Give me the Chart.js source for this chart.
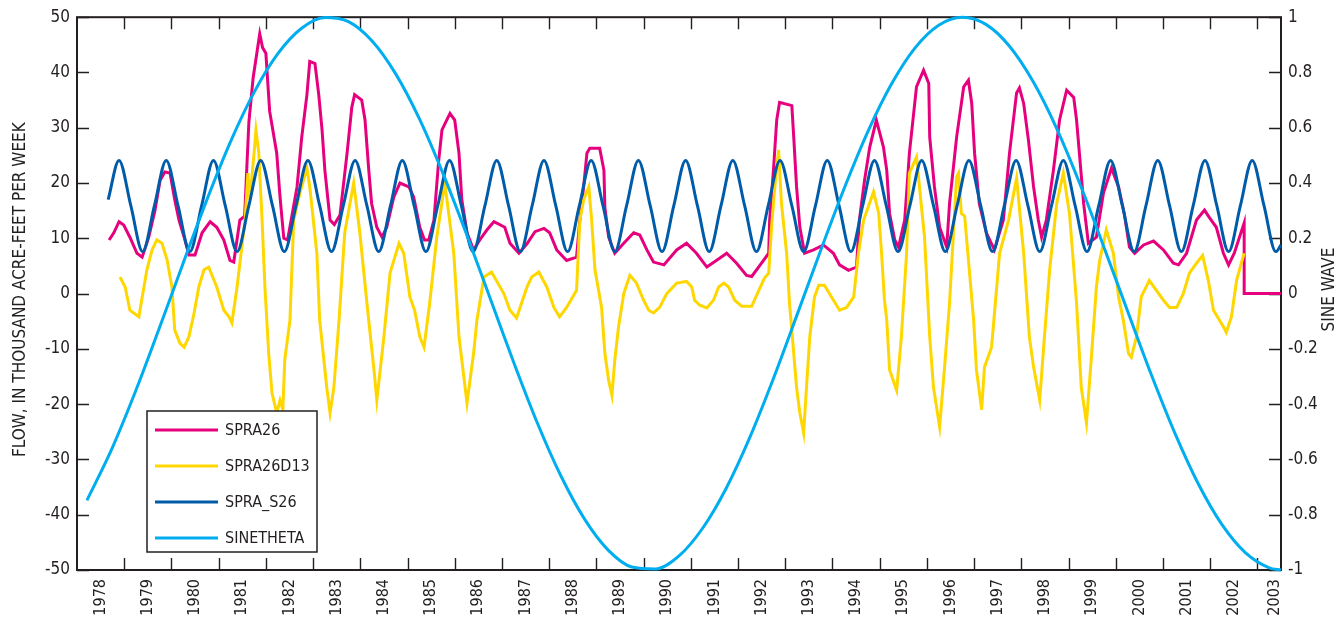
<!DOCTYPE html>
<html>
<head>
<meta charset="utf-8">
<title>SPRA26 weekly flow</title>
<script src="https://cdn.jsdelivr.net/npm/chart.js@4.4.1/dist/chart.umd.min.js"></script>
<style>
	html, body { margin: 0; padding: 0; background: #fff; }
	canvas { display: block; }
</style>
</head>
<body>
<canvas id="flowChart" width="1342" height="617"></canvas>
<script>
const INK = '#231f20'

// time axis, decimal years
const X_MIN = 1978
const X_MAX = 2003.5
const yearLabels = [
	1978, 1979, 1980, 1981, 1982, 1983, 1984, 1985, 1986, 1987, 1988, 1989, 1990,
	1991, 1992, 1993, 1994, 1995, 1996, 1997, 1998, 1999, 2000, 2001, 2002, 2003
]

// SPRA26, thousand acre-feet per week
const spra26Years = [
	1978.68, 1978.78, 1978.89, 1978.99, 1979.12, 1979.27, 1979.38, 1979.52, 1979.65, 1979.76, 1979.86, 1979.97,
	1980.07, 1980.16, 1980.27, 1980.37, 1980.5, 1980.65, 1980.82, 1980.96, 1981.11, 1981.24, 1981.32, 1981.45,
	1981.55, 1981.64, 1981.73, 1981.87, 1981.93, 1982.0, 1982.08, 1982.23, 1982.3, 1982.38, 1982.46, 1982.66,
	1982.76, 1982.87, 1982.93, 1983.04, 1983.12, 1983.19, 1983.25, 1983.36, 1983.45, 1983.57, 1983.72, 1983.82,
	1983.88, 1984.03, 1984.1, 1984.18, 1984.24, 1984.35, 1984.46, 1984.56, 1984.71, 1984.84, 1985.03, 1985.13,
	1985.26, 1985.36, 1985.45, 1985.56, 1985.66, 1985.73, 1985.9, 1986.0, 1986.09, 1986.15, 1986.26, 1986.4,
	1986.53, 1986.68, 1986.83, 1987.06, 1987.17, 1987.36, 1987.53, 1987.7, 1987.89, 1988.01, 1988.16, 1988.37,
	1988.58, 1988.65, 1988.73, 1988.8, 1988.86, 1989.07, 1989.16, 1989.18, 1989.26, 1989.39, 1989.58, 1989.79,
	1989.92, 1990.07, 1990.21, 1990.43, 1990.7, 1990.91, 1991.12, 1991.34, 1991.61, 1991.76, 1991.97, 1992.18,
	1992.29, 1992.54, 1992.65, 1992.67, 1992.75, 1992.82, 1992.88, 1993.14, 1993.18, 1993.24, 1993.31, 1993.41,
	1993.6, 1993.81, 1994.02, 1994.15, 1994.34, 1994.51, 1994.57, 1994.68, 1994.79, 1994.93, 1995.08, 1995.15,
	1995.21, 1995.32, 1995.4, 1995.53, 1995.63, 1995.78, 1995.93, 1996.04, 1996.06, 1996.16, 1996.27, 1996.42,
	1996.48, 1996.63, 1996.78, 1996.88, 1996.95, 1997.01, 1997.11, 1997.26, 1997.43, 1997.62, 1997.75, 1997.9,
	1997.96, 1998.05, 1998.15, 1998.26, 1998.36, 1998.43, 1998.53, 1998.68, 1998.81, 1998.96, 1999.11, 1999.17,
	1999.23, 1999.32, 1999.42, 1999.59, 1999.74, 1999.91, 2000.06, 2000.18, 2000.29, 2000.4, 2000.59, 2000.8,
	2001.01, 2001.22, 2001.33, 2001.5, 2001.71, 2001.88, 2001.98, 2002.13, 2002.28, 2002.39, 2002.51, 2002.72,
	2002.72, 2003.5
]
const spra26Flow = [
	9.7, 11, 13, 12.4, 10.2, 7.3, 6.6, 10.2, 15, 20.5, 22, 21.8,
	17, 13.3, 10.2, 7, 7, 11, 13, 12, 9.7, 6, 5.7, 13.3,
	14, 31, 39, 47, 44.5, 43.5, 33, 25.4, 17.5, 10, 9.7, 19.3,
	28.3, 36, 42, 41.6, 36, 29.6, 22.3, 13.3, 12.5, 14.2, 25.4, 33.7,
	36, 35, 31.4, 22.3, 16.3, 12, 10.2, 12, 17.5, 20, 19.3, 17.5,
	12, 9.7, 9.7, 13.3, 24, 29.6, 32.6, 31.4, 25.4, 17, 11, 7.9,
	9.7, 11.5, 13, 12, 9.1, 7.3, 9, 11.2, 11.8, 11, 7.9, 6,
	6.6, 13.3, 19.3, 25.4, 26.3, 26.3, 22.3, 15.6, 10.2, 7.3, 9.1, 11,
	10.6, 7.9, 5.7, 5.2, 7.9, 9.1, 7.3, 4.8, 6.4, 7.3, 5.5, 3.3,
	3.1, 6, 7.3, 13.3, 22.3, 31.4, 34.6, 34, 28.3, 19.3, 12, 7.3,
	7.9, 8.8, 7.3, 5.2, 4.2, 4.8, 13.3, 20.5, 26.5, 31.4, 26.5, 22.3,
	14.5, 9.7, 8.4, 13.3, 25.4, 37.4, 40.4, 38, 28.3, 19.3, 12, 8.4,
	16.3, 28.3, 37.4, 38.6, 34.4, 25.4, 16.3, 11, 7.9, 13.3, 25.4, 36.3,
	37.2, 34.4, 27.8, 19.3, 13.3, 10.2, 13.3, 22.3, 31.4, 36.8, 35.5, 31.4,
	25.4, 16.3, 9.1, 10.2, 18.2, 22.7, 19.3, 14.5, 8.4, 7.3, 8.8, 9.5,
	7.9, 5.5, 5.2, 7.3, 13.3, 15.1, 13.8, 12, 7.3, 5.2, 7.3, 12.8,
	0, 0
]

// SPRA26D13
const spra26d13Years = [
	1978.91, 1979.02, 1979.12, 1979.31, 1979.48, 1979.59, 1979.69, 1979.8, 1979.91, 1980.01, 1980.07, 1980.18,
	1980.27, 1980.37, 1980.48, 1980.58, 1980.69, 1980.79, 1980.96, 1981.11, 1981.22, 1981.28, 1981.39, 1981.45,
	1981.56, 1981.62, 1981.66, 1981.75, 1981.79, 1981.85, 1981.92, 1981.98, 1982.06, 1982.13, 1982.23, 1982.3,
	1982.36, 1982.4, 1982.51, 1982.59, 1982.72, 1982.87, 1982.93, 1983.08, 1983.14, 1983.29, 1983.36, 1983.44,
	1983.55, 1983.67, 1983.86, 1983.99, 1984.14, 1984.29, 1984.35, 1984.5, 1984.63, 1984.82, 1984.92, 1985.05,
	1985.15, 1985.26, 1985.35, 1985.47, 1985.62, 1985.79, 1985.98, 1986.09, 1986.26, 1986.4, 1986.47, 1986.62,
	1986.78, 1987.04, 1987.17, 1987.31, 1987.53, 1987.63, 1987.78, 1987.95, 1988.1, 1988.22, 1988.37, 1988.58,
	1988.65, 1988.73, 1988.84, 1988.9, 1988.97, 1989.11, 1989.18, 1989.26, 1989.33, 1989.39, 1989.47, 1989.58,
	1989.71, 1989.85, 1990.0, 1990.11, 1990.21, 1990.34, 1990.49, 1990.7, 1990.91, 1991.02, 1991.08, 1991.19,
	1991.34, 1991.48, 1991.59, 1991.7, 1991.8, 1991.93, 1992.08, 1992.29, 1992.44, 1992.56, 1992.65, 1992.71,
	1992.78, 1992.86, 1992.92, 1993.03, 1993.09, 1993.18, 1993.24, 1993.31, 1993.39, 1993.45, 1993.52, 1993.62,
	1993.71, 1993.83, 1993.98, 1994.15, 1994.3, 1994.45, 1994.55, 1994.66, 1994.87, 1994.98, 1995.04, 1995.1,
	1995.15, 1995.21, 1995.36, 1995.46, 1995.57, 1995.63, 1995.78, 1995.95, 1996.06, 1996.14, 1996.27, 1996.37,
	1996.48, 1996.63, 1996.67, 1996.73, 1996.8, 1996.99, 1997.05, 1997.16, 1997.22, 1997.37, 1997.54, 1997.73,
	1997.9, 1998.05, 1998.17, 1998.26, 1998.39, 1998.49, 1998.6, 1998.75, 1998.89, 1999.02, 1999.17, 1999.27,
	1999.38, 1999.49, 1999.59, 1999.66, 1999.8, 1999.95, 2000.06, 2000.16, 2000.27, 2000.33, 2000.44, 2000.54,
	2000.71, 2001.01, 2001.14, 2001.29, 2001.43, 2001.56, 2001.71, 2001.84, 2001.96, 2002.07, 2002.28, 2002.34,
	2002.45, 2002.56, 2002.66, 2002.72
]
const spra26d13Flow = [
	3, 1.2, -3, -4.2, 4.3, 7.9, 9.7, 9.1, 6, 1.2, -6.6, -9,
	-9.7, -7.8, -3.5, 1.2, 4.3, 4.8, 1.2, -3, -4.2, -5.3, 1.2, 5.5,
	13.3, 21.8, 17, 25.4, 29.6, 25.4, 13.3, 1.2, -10.8, -18, -21.6, -19.3,
	-21, -12, -4.8, 13.3, 18.2, 22.7, 19.3, 7.3, -4.8, -17, -21.6, -17,
	-4.8, 11, 20, 11, -1.7, -13.8, -19.3, -7.8, 3.7, 9.1, 7.3, -0.6,
	-3, -7.8, -9.7, -1.7, 10.2, 20, 7.3, -7.8, -19.8, -10.8, -4.8, 3,
	3.9, 0, -3, -4.4, 1.2, 3, 3.9, 1.2, -2.5, -4.2, -2.5, 0.6,
	13.3, 17, 19.3, 13.3, 4.3, -2.5, -10.8, -15.7, -18.4, -12, -6, 0,
	3.3, 1.9, -1.2, -3, -3.5, -2.5, 0, 1.9, 2.2, 1.2, -1.2, -2.1,
	-2.6, -1.2, 1.2, 1.9, 1.2, -1.2, -2.3, -2.3, 0.6, 2.8, 3.7, 12,
	19.3, 26, 16.3, 7.3, -1.7, -10.8, -17, -21.6, -25.2, -17, -7.8, -0.6,
	1.5, 1.5, -0.6, -3, -2.5, -0.6, 7.3, 13.3, 18.4, 14.5, 7.3, -1,
	-4.8, -13.8, -17.5, -7.8, 7.3, 21.8, 24.7, 10.2, -7.8, -17, -24.1, -13.8,
	-1.7, 21.1, 21.8, 14.5, 14, -4.8, -13.8, -21, -13.3, -9.7, 7.3, 13.3,
	20.9, 7.3, -7.8, -13.3, -19.3, -7.8, 4.3, 16.3, 21.8, 14.5, -1.7, -17,
	-23.4, -10.8, 1.2, 6, 11.5, 7.3, -0.6, -4.8, -10.8, -11.5, -7.8, -0.6,
	2.4, -1.2, -2.5, -2.5, 0, 3.7, 5.5, 6.9, 2.4, -3, -6, -7,
	-4.2, 2.4, 5.5, 7.3
]

// SPRA_S26, seasonal component
const spraS26Years = [
	1978.66, 1978.89,
	1979.14, 1979.39, 1979.64, 1979.89, 1980.14, 1980.39, 1980.64, 1980.89,
	1981.14, 1981.39, 1981.64, 1981.89, 1982.14, 1982.39, 1982.64, 1982.89,
	1983.14, 1983.39, 1983.64, 1983.89, 1984.14, 1984.39, 1984.64, 1984.89,
	1985.14, 1985.39, 1985.64, 1985.89, 1986.14, 1986.39, 1986.64, 1986.89,
	1987.14, 1987.39, 1987.64, 1987.89, 1988.14, 1988.39, 1988.64, 1988.89,
	1989.14, 1989.39, 1989.64, 1989.89, 1990.14, 1990.39, 1990.64, 1990.89,
	1991.14, 1991.39, 1991.64, 1991.89, 1992.14, 1992.39, 1992.64, 1992.89,
	1993.14, 1993.39, 1993.64, 1993.89, 1994.14, 1994.39, 1994.64, 1994.89,
	1995.14, 1995.39, 1995.64, 1995.89, 1996.14, 1996.39, 1996.64, 1996.89,
	1997.14, 1997.39, 1997.64, 1997.89, 1998.14, 1998.39, 1998.64, 1998.89,
	1999.14, 1999.39, 1999.64, 1999.89, 2000.14, 2000.39, 2000.64, 2000.89,
	2001.14, 2001.39, 2001.64, 2001.89, 2002.14, 2002.39, 2002.64, 2002.89,
	2003.14, 2003.39, 2003.5
]
const spraS26Flow = [
	17, 24.1,
	15.9, 7.6, 15.9, 24.1, 15.9, 7.6, 15.9, 24.1,
	15.9, 7.6, 15.9, 24.1, 15.9, 7.6, 15.9, 24.1,
	15.9, 7.6, 15.9, 24.1, 15.9, 7.6, 15.9, 24.1,
	15.9, 7.6, 15.9, 24.1, 15.9, 7.6, 15.9, 24.1,
	15.9, 7.6, 15.9, 24.1, 15.9, 7.6, 15.9, 24.1,
	15.9, 7.6, 15.9, 24.1, 15.9, 7.6, 15.9, 24.1,
	15.9, 7.6, 15.9, 24.1, 15.9, 7.6, 15.9, 24.1,
	15.9, 7.6, 15.9, 24.1, 15.9, 7.6, 15.9, 24.1,
	15.9, 7.6, 15.9, 24.1, 15.9, 7.6, 15.9, 24.1,
	15.9, 7.6, 15.9, 24.1, 15.9, 7.6, 15.9, 24.1,
	15.9, 7.6, 15.9, 24.1, 15.9, 7.6, 15.9, 24.1,
	15.9, 7.6, 15.9, 24.1, 15.9, 7.6, 15.9, 24.1,
	15.9, 7.6, 8.8
]

// SINETHETA, right axis
const sineYears = [
	1978.21, 1978.75, 1979.25, 1979.75, 1980.25, 1980.75, 1981.25, 1981.75, 1982.25, 1982.75,
	1983.25, 1983.75, 1984.25, 1984.75, 1985.25, 1985.75, 1986.25, 1986.75, 1987.25, 1987.75,
	1988.25, 1988.75, 1989.25, 1989.75, 1990.25, 1990.75, 1991.25, 1991.75, 1992.25, 1992.75,
	1993.25, 1993.75, 1994.25, 1994.75, 1995.25, 1995.75, 1996.25, 1996.75, 1997.25, 1997.75,
	1998.25, 1998.75, 1999.25, 1999.75, 2000.25, 2000.75, 2001.25, 2001.75, 2002.25, 2002.75,
	2003.25, 2003.5
]
const sineTheta = [
	-0.748, -0.557, -0.349, -0.122, 0.111, 0.339, 0.549, 0.728, 0.867, 0.959,
	0.999, 0.984, 0.914, 0.795, 0.633, 0.435, 0.215, -0.017, -0.249, -0.468,
	-0.66, -0.816, -0.928, -0.989, -0.996, -0.949, -0.849, -0.704, -0.52, -0.307,
	-0.077, 0.156, 0.381, 0.586, 0.758, 0.889, 0.971, 1.0, 0.974, 0.895,
	0.767, 0.597, 0.393, 0.168, -0.063, -0.292, -0.504, -0.689, -0.836, -0.938,
	-0.992, -1.0
]

// prefer a narrow face; the condensed fallback runs wider so it gets smaller sizes
function hasFont(name) {
	const c = document.createElement('canvas').getContext('2d')
	const sample = 'SPRA26D13 1978 ACRE-FEET'
	c.font = '40px monospace'
	const base = c.measureText(sample).width
	c.font = '40px "' + name + '", monospace'
	return c.measureText(sample).width !== base
}

const NARROW = hasFont('Liberation Sans Narrow')
const FONT = NARROW ? '"Liberation Sans Narrow", sans-serif' : '"DejaVu Sans Condensed", "DejaVu Sans", sans-serif'
const SIZES = NARROW
	? { yTick: 18, xTick: 18, xPad: 13, title: 19, legend: 18 }
	: { yTick: 17, xTick: 16, xPad: 9, title: 17, legend: 16 }

function pairs(xs, ys) {
	return xs.map((x, i) => ({ x, y: ys[i] }))
}

// inward tick marks on all four sides plus the plot frame
const framePlugin = {
	id: 'frame',
	beforeDatasetsDraw(chart) {
		const { ctx, chartArea: a, scales } = chart
		const len = 12

		ctx.save()
		ctx.strokeStyle = INK
		ctx.lineWidth = 1.4
		ctx.beginPath()

		yearLabels.slice(1).forEach(yr => {
			const x = Math.round(scales.x.getPixelForValue(yr)) + 0.5
			ctx.moveTo(x, a.bottom)
			ctx.lineTo(x, a.bottom - len)
			ctx.moveTo(x, a.top)
			ctx.lineTo(x, a.top + len)
		})

		scales.y.ticks.forEach(t => {
			const y = Math.round(scales.y.getPixelForValue(t.value)) + 0.5
			ctx.moveTo(a.left, y)
			ctx.lineTo(a.left + len, y)
		})

		scales.y2.ticks.forEach(t => {
			const y = Math.round(scales.y2.getPixelForValue(t.value)) + 0.5
			ctx.moveTo(a.right, y)
			ctx.lineTo(a.right - len, y)
		})
		ctx.stroke()

		ctx.lineWidth = 2
		ctx.strokeRect(a.left, a.top, a.right - a.left, a.bottom - a.top)
		ctx.restore()
	}
}

// boxed legend sitting inside the lower left of the plot
const legendBoxPlugin = {
	id: 'legendBox',
	afterDatasetsDraw(chart) {
		const ctx = chart.ctx
		const box = { x: 147, y: 411, w: 170, h: 141 }

		ctx.save()
		ctx.fillStyle = '#fff'
		ctx.fillRect(box.x, box.y, box.w, box.h)
		ctx.strokeStyle = INK
		ctx.lineWidth = 1.5
		ctx.strokeRect(box.x, box.y, box.w, box.h)

		ctx.font = SIZES.legend + 'px ' + FONT
		ctx.textBaseline = 'middle'
		ctx.textAlign = 'left'

		chart.data.datasets.forEach((ds, i) => {
			const y = box.y + 19 + i * 36
			ctx.strokeStyle = ds.borderColor
			ctx.lineWidth = 3
			ctx.beginPath()
			ctx.moveTo(box.x + 8, y)
			ctx.lineTo(box.x + 71, y)
			ctx.stroke()

			ctx.fillStyle = INK
			ctx.fillText(ds.label, box.x + 78, y + 1)
		})
		ctx.restore()
	}
}

// both axis titles read bottom to top
const axisTitlePlugin = {
	id: 'axisTitles',
	afterDraw(chart) {
		const { ctx, chartArea: a } = chart
		const mid = (a.top + a.bottom) / 2 - 4
		const titles = [
			{ text: 'FLOW, IN THOUSAND ACRE-FEET PER WEEK', x: 21 },
			{ text: 'SINE WAVE', x: 1330 }
		]

		titles.forEach(t => {
			ctx.save()
			ctx.fillStyle = INK
			ctx.font = SIZES.title + 'px ' + FONT
			ctx.textAlign = 'center'
			ctx.textBaseline = 'middle'
			ctx.translate(t.x, mid)
			ctx.rotate(-Math.PI / 2)
			ctx.fillText(t.text, 0, 0)
			ctx.restore()
		})
	}
}

function main() {
	Chart.defaults.font.family = FONT
	Chart.defaults.font.size = SIZES.yTick
	Chart.defaults.color = INK

	const lineBase = {
		borderWidth: 3,
		pointRadius: 0,
		fill: false,
		clip: 4
	}

	const datasets = [
		Object.assign({}, lineBase, {
			label: 'SPRA26',
			data: pairs(spra26Years, spra26Flow),
			borderColor: '#e6007e',
			yAxisID: 'y',
			tension: 0,
			order: 4
		}),
		Object.assign({}, lineBase, {
			label: 'SPRA26D13',
			data: pairs(spra26d13Years, spra26d13Flow),
			borderColor: '#ffd700',
			yAxisID: 'y',
			tension: 0,
			order: 3
		}),
		Object.assign({}, lineBase, {
			label: 'SPRA_S26',
			data: pairs(spraS26Years, spraS26Flow),
			borderColor: '#005ca9',
			yAxisID: 'y',
			cubicInterpolationMode: 'monotone',
			order: 2
		}),
		Object.assign({}, lineBase, {
			label: 'SINETHETA',
			data: pairs(sineYears, sineTheta),
			borderColor: '#00aeef',
			yAxisID: 'y2',
			cubicInterpolationMode: 'monotone',
			order: 1
		})
	]

	new Chart(document.getElementById('flowChart'), {
		type: 'line',
		data: { datasets },
		options: {
			responsive: false,
			animation: false,
			events: [],
			layout: { padding: { top: 17, left: 0, right: 0, bottom: 0 } },
			plugins: {
				legend: { display: false },
				tooltip: { enabled: false }
			},
			scales: {
				x: {
					type: 'linear',
					position: 'bottom',
					min: X_MIN,
					max: X_MAX,
					grid: { display: false, drawTicks: false },
					border: { display: false },
					ticks: {
						autoSkip: false,
						minRotation: 90,
						maxRotation: 90,
						padding: SIZES.xPad,
						font: { size: SIZES.xTick },
						callback: v => String(Math.floor(v))
					},
					// year names sit in the middle of each year, the last one inside the axis end
					afterBuildTicks: scale => {
						scale.ticks = yearLabels.map(yr => ({ value: Math.min(yr + 0.5, X_MAX - 0.13) }))
					},
					afterFit: scale => { scale.height = 47 }
				},
				y: {
					position: 'left',
					min: -50,
					max: 50,
					grid: { display: false, drawTicks: false },
					border: { display: false },
					ticks: { stepSize: 10, padding: 7 },
					afterFit: scale => { scale.width = 77 }
				},
				y2: {
					position: 'right',
					min: -1,
					max: 1,
					grid: { display: false, drawTicks: false },
					border: { display: false },
					ticks: {
						stepSize: 0.2,
						padding: 7,
						callback: v => String(Math.round(v * 10) / 10)
					},
					afterFit: scale => { scale.width = 61 }
				}
			}
		},
		plugins: [framePlugin, legendBoxPlugin, axisTitlePlugin]
	})
}

main()
</script>
</body>
</html>
